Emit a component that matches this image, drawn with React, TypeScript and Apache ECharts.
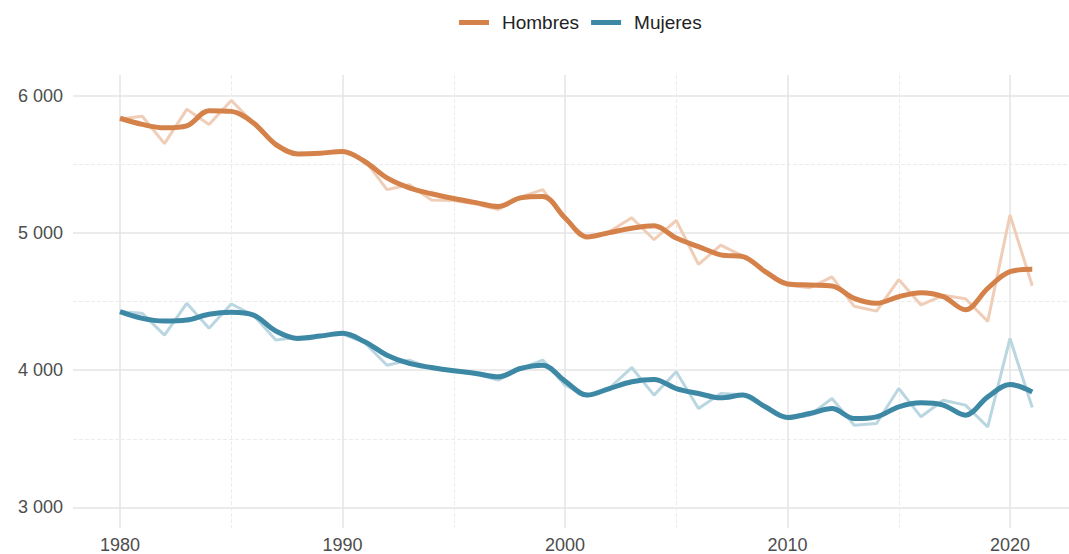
import React, { useEffect, useRef } from "react";
import * as echarts from "echarts";

const years = [
  1980, 1981, 1982, 1983, 1984, 1985, 1986, 1987, 1988, 1989,
  1990, 1991, 1992, 1993, 1994, 1995, 1996, 1997, 1998, 1999,
  2000, 2001, 2002, 2003, 2004, 2005, 2006, 2007, 2008, 2009,
  2010, 2011, 2012, 2013, 2014, 2015, 2016, 2017, 2018, 2019,
  2020, 2021,
];

const hombresRaw = [
  5830, 5850, 5650, 5900, 5790, 5965, 5800, 5630, 5575, 5580,
  5595, 5530, 5315, 5350, 5240, 5235, 5210, 5170, 5260, 5315,
  5095, 4965, 5010, 5110, 4950, 5090, 4770, 4910, 4830, 4720,
  4620, 4600, 4680, 4465, 4430, 4660, 4475, 4545, 4520, 4355,
  5130, 4615,
];

const hombresSmooth = [
  5835, 5790, 5765, 5780, 5890, 5885, 5800, 5645, 5575, 5580,
  5593, 5520, 5400, 5328, 5285, 5250, 5220, 5192, 5255, 5265,
  5110, 4970, 5002, 5034, 5051, 4962, 4900, 4840, 4827, 4718,
  4628, 4620, 4613, 4523, 4487, 4535, 4564, 4535, 4440, 4596,
  4718, 4735,
];

const mujeresRaw = [
  4426, 4414, 4255, 4487, 4305, 4482, 4400, 4220, 4240, 4250,
  4262, 4200, 4036, 4073, 4010, 3995, 3970, 3927, 4010, 4073,
  3890, 3810, 3870, 4019, 3818, 3988, 3720, 3830, 3820, 3730,
  3650, 3672, 3793, 3599, 3611, 3866, 3660, 3781, 3745, 3586,
  4231, 3728,
];

const mujeresSmooth = [
  4426, 4377, 4358, 4365, 4407, 4421, 4401, 4285, 4231, 4248,
  4268, 4207, 4109, 4049, 4019, 3995, 3976, 3951, 4012, 4036,
  3920, 3818, 3866, 3915, 3932, 3866, 3830, 3798, 3818, 3733,
  3655, 3684, 3720, 3647, 3660, 3733, 3762, 3745, 3672, 3805,
  3895, 3841,
];

const yTicks = [3000, 4000, 5000, 6000];

const ORANGE = "#D4824A";
const ORANGE_LIGHT = "#EFCDB7";
const BLUE = "#3D88A5";
const BLUE_LIGHT = "#BAD6E1";
const GRID_MAJOR = "#e4e4e4";
const GRID_MINOR = "#ececec";
const FONT = "'Liberation Sans', Arial, sans-serif";

const pair = (vals: number[]) => years.map((y, i) => [y, vals[i]]);

export default function App() {
  const ref = useRef<HTMLDivElement>(null);

  useEffect(() => {
    if (!ref.current) return;
    const chart = echarts.init(ref.current, undefined, { renderer: "svg" });
    const yearPx = 22.25;
    const bLeft = 120 - 2.5 * yearPx;
    const bWidth = (2025 - 1977.5) * yearPx;
    const bTop = 75;
    const bHeight = 453;
    const pxPerUnit = bHeight / (6150 - 2850);
    const aTop = bTop + (6150 - 6000) * pxPerUnit;
    const aHeight = 3000 * pxPerUnit;

    chart.setOption({
      animation: false,
      backgroundColor: "#ffffff",
      textStyle: { fontFamily: FONT },
      legend: {
        data: ["Hombres", "Mujeres"],
        left: 454,
        top: 8,
        icon: "rect",
        itemWidth: 30,
        itemHeight: 5,
        itemGap: 12,
        textStyle: { fontSize: 19, color: "#222222", fontFamily: FONT, padding: [0, 0, 0, 8] },
      },
      grid: [
        { left: 73, top: aTop, height: aHeight, right: 0, containLabel: false },
        { left: bLeft, top: bTop, width: bWidth, height: bHeight, containLabel: false },
      ],
      xAxis: [
        { gridIndex: 0, type: "value", min: 0, max: 1, show: false },
        {
          gridIndex: 1,
          type: "value",
          position: "bottom",
          min: 1977.5,
          max: 2025,
          interval: 2.5,
          axisLine: { show: false },
          axisTick: { show: false },
          axisLabel: {
            fontSize: 18,
            color: "#4d4d4d",
            margin: 8,
            fontFamily: FONT,
            formatter: (v: number) => (v % 10 === 0 ? String(v) : ""),
          },
          splitLine: {
            show: true,
            lineStyle: { color: ["transparent", GRID_MAJOR, "transparent", "transparent"], width: 1.5 },
          },
        },
        {
          gridIndex: 1,
          type: "value",
          position: "top",
          min: 1977.5,
          max: 2025,
          interval: 2.5,
          axisLine: { show: false },
          axisTick: { show: false },
          axisLabel: { show: false },
          splitLine: {
            show: true,
            lineStyle: {
              color: ["transparent", "transparent", "transparent", GRID_MINOR],
              width: 1,
              type: "dashed",
            },
          },
        },
      ],
      yAxis: [
        {
          gridIndex: 0,
          type: "value",
          min: yTicks[0],
          max: yTicks[yTicks.length - 1],
          interval: 1000,
          axisLine: { show: false },
          axisTick: { show: false },
          axisLabel: {
            fontSize: 18,
            color: "#4d4d4d",
            margin: 10,
            fontFamily: FONT,
            formatter: (v: number) => `${Math.floor(v / 1000)} ${String(v % 1000).padStart(3, "0")}`,
          },
          splitLine: { show: true, lineStyle: { color: GRID_MAJOR, width: 1.5 } },
          minorTick: { show: false, splitNumber: 2 },
          minorSplitLine: { show: true, lineStyle: { color: GRID_MINOR, width: 1, type: "dashed" } },
        },
        {
          gridIndex: 1,
          type: "value",
          min: 2850,
          max: 6150,
          show: false,
          splitLine: { show: false },
        },
      ],
      series: [
        {
          name: "Hombres anual",
          type: "line",
          xAxisIndex: 1,
          yAxisIndex: 1,
          data: pair(hombresRaw),
          symbol: "none",
          color: ORANGE_LIGHT,
          lineStyle: { color: ORANGE_LIGHT, width: 3 },
          z: 2,
        },
        {
          name: "Mujeres anual",
          type: "line",
          xAxisIndex: 1,
          yAxisIndex: 1,
          data: pair(mujeresRaw),
          symbol: "none",
          color: BLUE_LIGHT,
          lineStyle: { color: BLUE_LIGHT, width: 3 },
          z: 2,
        },
        {
          name: "Hombres",
          type: "line",
          xAxisIndex: 1,
          yAxisIndex: 1,
          data: pair(hombresSmooth),
          symbol: "none",
          smooth: 0.35,
          color: ORANGE,
          itemStyle: { color: ORANGE },
          lineStyle: { color: ORANGE, width: 5 },
          z: 3,
        },
        {
          name: "Mujeres",
          type: "line",
          xAxisIndex: 1,
          yAxisIndex: 1,
          data: pair(mujeresSmooth),
          symbol: "none",
          smooth: 0.35,
          color: BLUE,
          itemStyle: { color: BLUE },
          lineStyle: { color: BLUE, width: 5 },
          z: 3,
        },
      ],
    });
    return () => chart.dispose();
  }, []);

  return (
    <div
      style={{
        position: "fixed",
        left: 0,
        top: 0,
        width: 1069,
        height: 554,
        overflow: "hidden",
        background: "#ffffff",
      }}
    >
      <div ref={ref} style={{ width: 1130, height: 554 }} />
    </div>
  );
}
